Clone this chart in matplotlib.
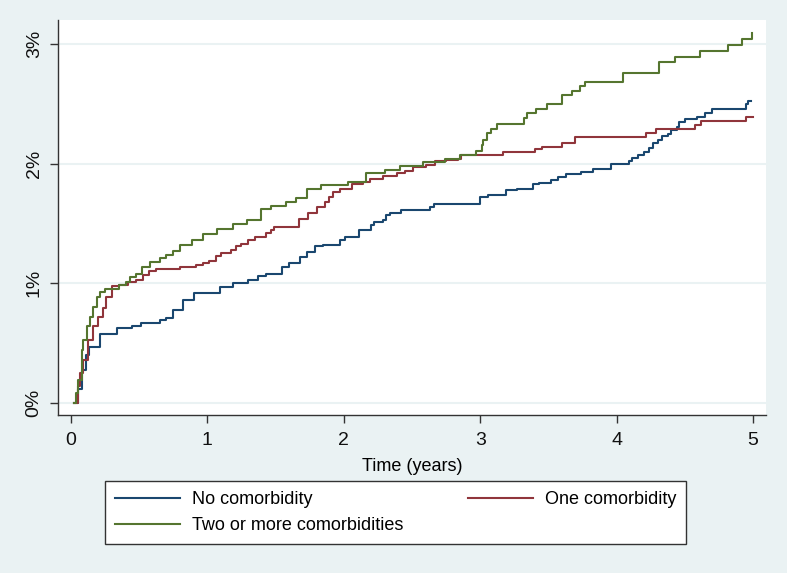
import numpy as np
import matplotlib
matplotlib.use("Agg")
import matplotlib.pyplot as plt

# step points: (time in years, cumulative incidence in %)
t_none = [0.02, 0.05, 0.08, 0.11, 0.13, 0.21, 0.34, 0.45, 0.51, 0.65, 0.70, 0.75, 0.82, 0.90,
          1.09, 1.19, 1.30, 1.37, 1.43, 1.545, 1.60, 1.68, 1.73, 1.79, 1.85, 1.97, 2.01,
          2.11, 2.20, 2.22, 2.29, 2.31, 2.34, 2.42, 2.63, 2.66, 3.00, 3.06, 3.19, 3.27,
          3.39, 3.43, 3.52, 3.57, 3.63, 3.74, 3.83, 3.96, 4.09, 4.11, 4.155, 4.20, 4.24,
          4.27, 4.30, 4.33, 4.38, 4.40, 4.44, 4.46, 4.50, 4.59, 4.65, 4.70, 4.95, 4.965, 4.985]
y_none = [0.00, 0.12, 0.28, 0.40, 0.47, 0.58, 0.63, 0.64, 0.67, 0.69, 0.71, 0.78, 0.86, 0.92,
          0.97, 1.00, 1.03, 1.06, 1.075, 1.14, 1.17, 1.22, 1.26, 1.31, 1.32, 1.36, 1.39,
          1.445, 1.49, 1.51, 1.53, 1.57, 1.585, 1.61, 1.64, 1.66, 1.72, 1.74, 1.78, 1.79,
          1.83, 1.84, 1.86, 1.89, 1.91, 1.93, 1.955, 2.00, 2.02, 2.05, 2.07, 2.10, 2.13,
          2.17, 2.20, 2.23, 2.25, 2.28, 2.31, 2.35, 2.37, 2.39, 2.42, 2.455, 2.50, 2.52, 2.52]

t_one = [0.02, 0.05, 0.066, 0.09, 0.127, 0.164, 0.20, 0.237, 0.26, 0.30, 0.35, 0.42, 0.48,
         0.53, 0.57, 0.62, 0.80, 0.92, 0.97, 1.01, 1.06, 1.10, 1.17, 1.21, 1.25, 1.30,
         1.35, 1.43, 1.47, 1.49, 1.67, 1.74, 1.80, 1.86, 1.89, 1.92, 1.97, 2.06, 2.14,
         2.19, 2.29, 2.39, 2.45, 2.51, 2.60, 2.67, 2.75, 2.84, 2.86, 3.17, 3.40, 3.45,
         3.60, 3.695, 4.215, 4.29, 4.575, 4.62, 4.95, 5.00]
y_one = [0.00, 0.14, 0.25, 0.36, 0.53, 0.64, 0.72, 0.79, 0.89, 0.98, 0.99, 1.01, 1.03,
         1.07, 1.10, 1.12, 1.14, 1.15, 1.17, 1.19, 1.23, 1.25, 1.28, 1.31, 1.33, 1.36,
         1.39, 1.42, 1.445, 1.47, 1.54, 1.585, 1.64, 1.68, 1.72, 1.765, 1.79, 1.83, 1.85,
         1.87, 1.90, 1.92, 1.94, 1.97, 1.99, 2.02, 2.03, 2.04, 2.07, 2.095, 2.12, 2.14,
         2.17, 2.225, 2.26, 2.29, 2.32, 2.355, 2.39, 2.39]

t_two = [0.02, 0.04, 0.054, 0.078, 0.09, 0.115, 0.14, 0.164, 0.19, 0.21, 0.25, 0.35, 0.40,
         0.43, 0.48, 0.52, 0.58, 0.65, 0.70, 0.75, 0.80, 0.885, 0.97, 1.07, 1.19, 1.29,
         1.39, 1.47, 1.58, 1.65, 1.73, 1.83, 2.03, 2.16, 2.30, 2.41, 2.58, 2.74, 2.85,
         2.97, 3.01, 3.02, 3.05, 3.08, 3.12, 3.32, 3.34, 3.41, 3.49, 3.60, 3.67, 3.73,
         3.77, 4.045, 4.31, 4.43, 4.61, 4.82, 4.92, 4.99]
y_two = [0.00, 0.08, 0.19, 0.44, 0.53, 0.64, 0.72, 0.80, 0.89, 0.93, 0.95, 0.985, 1.01,
         1.055, 1.08, 1.14, 1.18, 1.21, 1.24, 1.27, 1.32, 1.36, 1.41, 1.45, 1.495, 1.53,
         1.62, 1.65, 1.68, 1.71, 1.79, 1.82, 1.85, 1.92, 1.95, 1.98, 2.01, 2.04, 2.07,
         2.105, 2.155, 2.20, 2.26, 2.29, 2.33, 2.38, 2.42, 2.46, 2.50, 2.57, 2.61, 2.65,
         2.68, 2.76, 2.85, 2.89, 2.94, 2.99, 3.04, 3.09]

labels = ["No comorbidity", "One comorbidity", "Two or more comorbidities"]
colors = ["#1A476F", "#90353B", "#55752F"]

plt.rcParams['font.family'] = ['Liberation Sans', 'DejaVu Sans']

bg = "#EAF2F3"
fig = plt.figure(figsize=(7.87, 5.73), dpi=100, facecolor=bg)
ax = fig.add_axes([58 / 787, 1 - 415 / 573, (766 - 58) / 787, (415 - 20) / 573])
ax.set_facecolor("white")

lines = []
for t, y, c, lab in zip([t_none, t_one, t_two], [y_none, y_one, y_two], colors, labels):
    ln, = ax.plot(t, y, drawstyle="steps-post", color=c, lw=1.5, label=lab)
    lines.append(ln)

ax.set_xlim(-0.095, 5.095)
ax.set_ylim(-0.1, 3.2)
ax.set_xticks([0, 1, 2, 3, 4, 5])
ax.set_yticks([0, 1, 2, 3])
ax.set_yticklabels(["0%", "1%", "2%", "3%"], rotation=90, va="center")
ax.grid(axis="y", color=bg, lw=1.5)
ax.set_axisbelow(True)

for s in ["top", "right"]:
    ax.spines[s].set_visible(False)
for s in ["left", "bottom"]:
    ax.spines[s].set_color("#333333")
    ax.spines[s].set_linewidth(1.0)
ax.tick_params(axis="both", direction="out", length=6, width=1, color="#333333",
               labelsize=14, labelcolor="#111111")
ax.tick_params(axis="x", pad=6)
ax.tick_params(axis="y", pad=5)
ax.set_xlabel("Time (years)", fontsize=13, labelpad=7)

leg = fig.legend([lines[0], lines[2], lines[1]], [labels[0], labels[2], labels[1]],
                 ncol=2, loc="lower left", mode="expand",
                 bbox_to_anchor=(105 / 787, 1 - 544 / 573, (686 - 105) / 787, (544 - 481) / 573),
                 borderaxespad=0, fontsize=13,
                 handlelength=3.6, handletextpad=0.65,
                 labelspacing=0.5, borderpad=0.55, fancybox=False, framealpha=1)
leg.get_frame().set_edgecolor("#333333")
leg.get_frame().set_linewidth(1.0)

fig.savefig("out.png", dpi=100, facecolor=bg)
